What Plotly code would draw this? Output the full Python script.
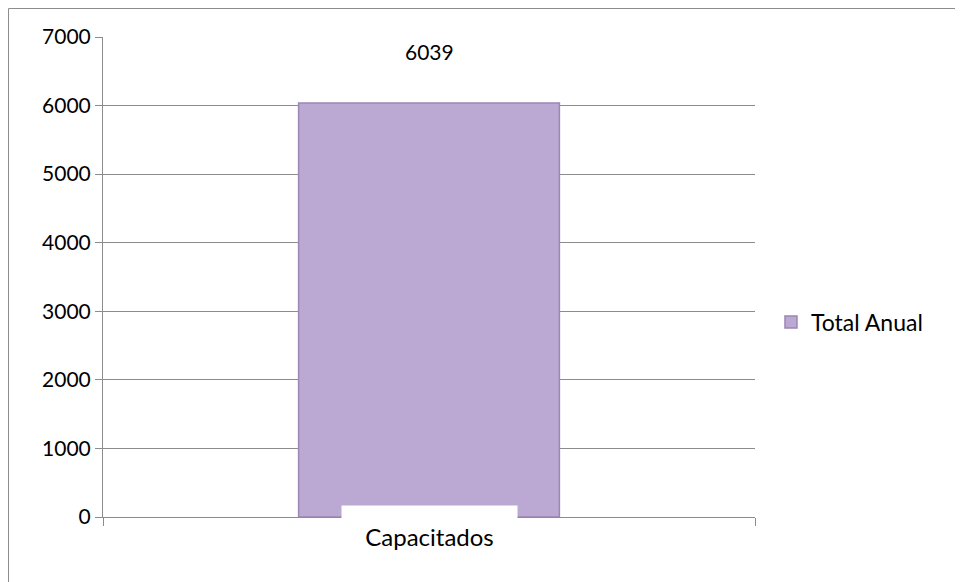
import plotly.graph_objects as go

categories = ["Capacitados"]
series_name = "Total Anual"
values = [6039]
y_ticks = [0, 1000, 2000, 3000, 4000, 5000, 6000, 7000]

FONT = "Lato, Open Sans, sans-serif"

fig = go.Figure()
fig.add_trace(go.Bar(
    x=categories, y=values, name=series_name,
    marker=dict(color="#BCA9D3", line=dict(color="#9A87B5", width=1.5)),
    width=0.4,
    cliponaxis=False,
))

# data label above the bar
for c, v in zip(categories, values):
    fig.add_annotation(
        x=c, y=v, xref="x", yref="y", text=str(v), showarrow=False,
        yanchor="middle", yshift=51,
        font=dict(size=21, color="#000000", family=FONT),
    )

# category label drawn with white background box over bar bottom
fig.add_annotation(
    x=categories[0], y=0, xref="x", yref="y",
    text=categories[0], showarrow=False,
    yanchor="top", yshift=12, width=173, height=58,
    bgcolor="white", font=dict(size=24, color="#000000", family=FONT),
    valign="middle",
)

fig.update_layout(
    width=963, height=582,
    margin=dict(l=95, r=216, t=29, b=73),
    paper_bgcolor="white", plot_bgcolor="white",
    font=dict(family=FONT, size=18, color="#000000"),
    showlegend=True,
    legend=dict(x=1.0245, y=0.406, xanchor="left", yanchor="middle",
                font=dict(size=23, family=FONT), bgcolor="rgba(0,0,0,0)"),
    bargap=0.6,
    shapes=[dict(type="rect", xref="paper", yref="paper",
                 x0=-0.1449, x1=1.4, y0=-0.3, y1=1.0594,
                 line=dict(color="#8C8C8C", width=1), fillcolor="rgba(0,0,0,0)",
                 layer="below")],
)
fig.update_yaxes(
    range=[0, 7000], tickvals=y_ticks, automargin=False,
    showgrid=True, gridcolor="#8C8C8C", gridwidth=1,
    showline=True, linecolor="#8C8C8C", linewidth=1,
    ticks="outside", ticklen=7, tickcolor="#8C8C8C",
    tickfont=dict(size=21, family=FONT), zeroline=False,
)
fig.update_xaxes(
    showticklabels=False, tickson="boundaries", automargin=False,
    showline=True, linecolor="#8C8C8C", linewidth=1,
    ticks="outside", ticklen=8, tickcolor="#8C8C8C",
    showgrid=False,
)

fig.write_html("out.html")
